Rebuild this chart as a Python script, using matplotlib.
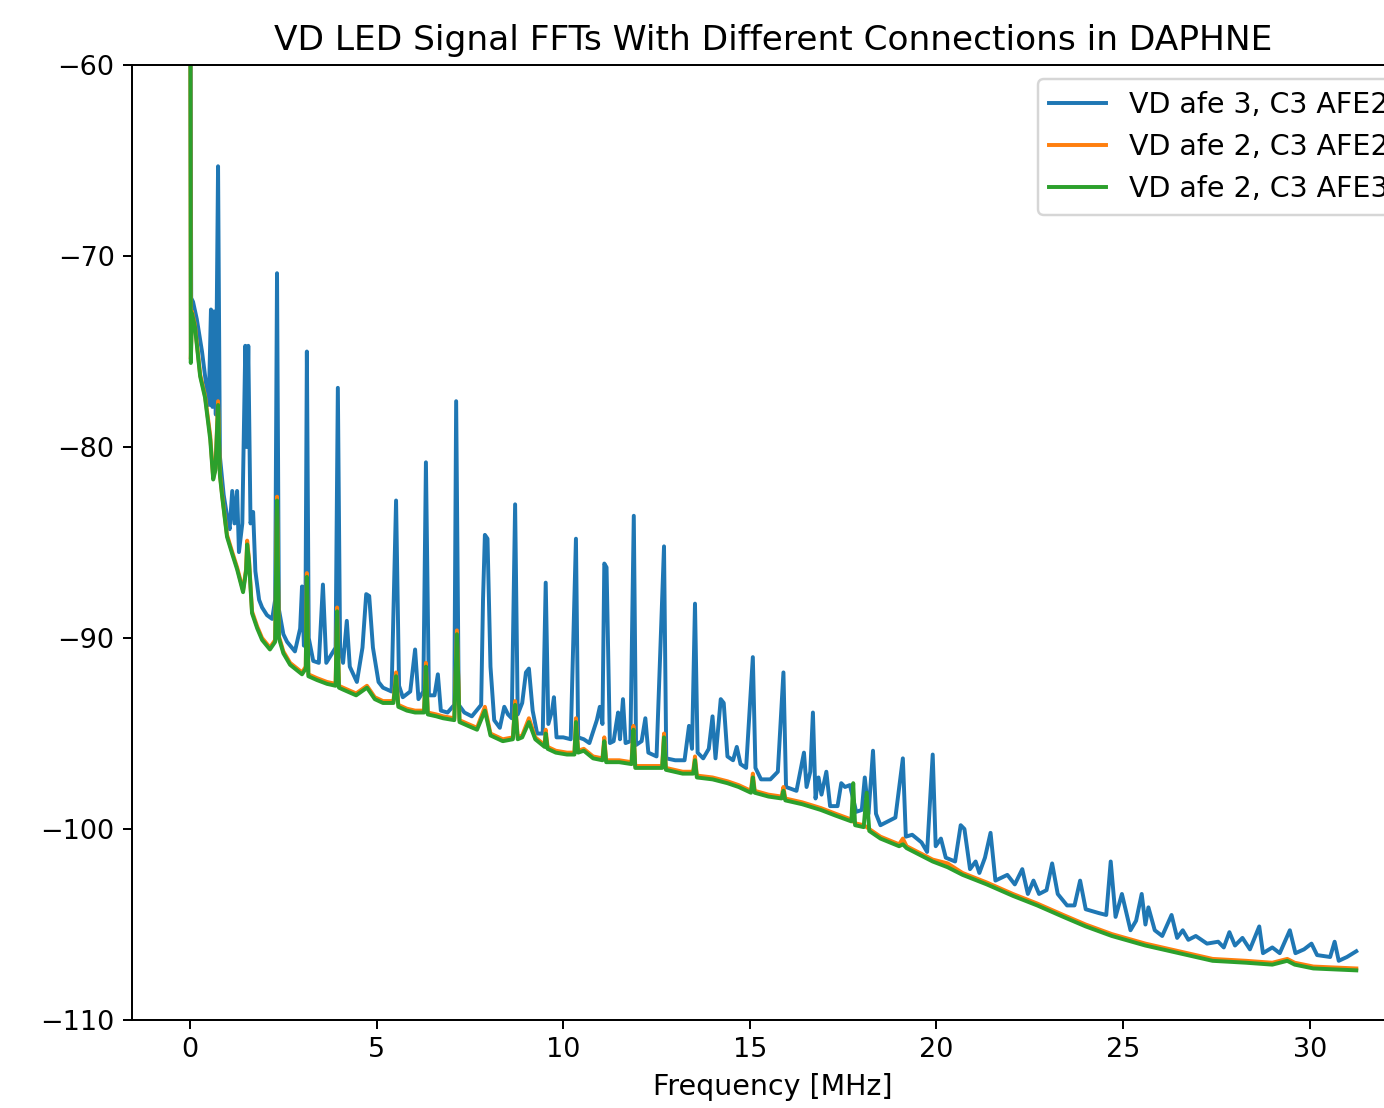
import sys

import matplotlib
matplotlib.use('Agg')
import matplotlib.pyplot as plt


# VD afe 3, C3 AFE2 -- frequency [MHz] / power [dB]
f_afe3 = [0.0, 0.03, 0.08, 0.18, 0.32, 0.45, 0.50, 0.56, 0.60, 0.64, 0.69, 0.75, 0.80, 0.90, 0.99,
          1.06, 1.13, 1.19, 1.26, 1.31, 1.40, 1.48, 1.52, 1.56, 1.62, 1.69, 1.75, 1.85, 1.93,
          2.06, 2.20, 2.28, 2.33, 2.38, 2.50, 2.60, 2.81, 2.95, 3.00, 3.05, 3.09, 3.13, 3.18,
          3.30, 3.45, 3.56, 3.65, 3.90, 3.96, 4.02, 4.10, 4.20, 4.28, 4.47, 4.62, 4.72, 4.80,
          4.90, 5.05, 5.17, 5.40, 5.52, 5.60, 5.70, 5.90, 6.03, 6.12, 6.25, 6.32, 6.40, 6.55,
          6.64, 6.72, 6.90, 7.08, 7.13, 7.20, 7.35, 7.55, 7.80, 7.85, 7.90, 7.97, 8.05, 8.15,
          8.30, 8.42, 8.52, 8.62, 8.71, 8.78, 8.90, 9.00, 9.08, 9.18, 9.30, 9.45, 9.53, 9.60,
          9.70, 9.75, 9.82, 10.0, 10.2, 10.34, 10.40, 10.55, 10.70, 10.90, 10.98, 11.05, 11.10,
          11.16, 11.25, 11.35, 11.42, 11.47, 11.52, 11.60, 11.67, 11.80, 11.89, 11.95, 12.10,
          12.20, 12.28, 12.50, 12.70, 12.76, 13.0, 13.25, 13.37, 13.45, 13.53, 13.60, 13.75,
          13.90, 14.00, 14.08, 14.22, 14.30, 14.40, 14.55, 14.65, 14.75, 14.90, 15.08, 15.15,
          15.30, 15.55, 15.75, 15.90, 15.97, 16.25, 16.45, 16.52, 16.62, 16.69, 16.76, 16.84,
          16.92, 17.05, 17.15, 17.35, 17.45, 17.55, 17.68, 17.85, 18.0, 18.08, 18.18, 18.30,
          18.38, 18.50, 18.70, 18.90, 19.10, 19.18, 19.35, 19.60, 19.75, 19.90, 19.98, 20.12,
          20.25, 20.50, 20.65, 20.75, 20.90, 21.05, 21.15, 21.30, 21.45, 21.58, 21.90, 22.10,
          22.30, 22.45, 22.60, 22.75, 22.95, 23.10, 23.25, 23.50, 23.70, 23.85, 24.00, 24.35,
          24.55, 24.67, 24.80, 24.97, 25.20, 25.35, 25.50, 25.60, 25.68, 25.85, 26.05, 26.30,
          26.45, 26.60, 26.75, 26.95, 27.25, 27.55, 27.70, 27.85, 28.00, 28.20, 28.40, 28.65,
          28.75, 29.0, 29.2, 29.47, 29.62, 29.85, 30.05, 30.20, 30.55, 30.67, 30.78, 31.0, 31.25]
db_afe3 = [-45.0, -72.2, -72.4, -73.3, -75.0, -77.0, -77.8, -72.8, -77.9, -72.9, -78.3, -65.3, -80.5, -82.5, -83.6,
           -84.3, -82.3, -84.0, -82.3, -85.5, -84.0, -74.7, -80.0, -74.7, -84.0, -83.4, -86.5, -88.0, -88.4,
           -88.8, -89.0, -88.0, -70.9, -88.5, -89.8, -90.2, -90.7, -89.5, -87.3, -90.4, -89.5, -75.0, -90.0,
           -91.2, -91.3, -87.2, -91.3, -90.5, -76.9, -90.5, -91.3, -89.1, -91.5, -92.3, -90.5, -87.7, -87.8,
           -90.5, -92.3, -92.6, -92.8, -82.8, -92.5, -93.1, -92.8, -90.6, -93.2, -92.8, -80.8, -93.0, -93.0,
           -91.9, -93.8, -93.9, -93.5, -77.6, -93.5, -93.9, -94.1, -93.5, -88.0, -84.6, -84.8, -91.5, -94.3,
           -94.7, -93.6, -94.0, -94.2, -83.0, -94.0, -93.4, -91.8, -91.6, -93.8, -95.0, -95.0, -87.1, -94.5,
           -93.8, -93.1, -95.2, -95.2, -95.3, -84.8, -95.2, -95.3, -95.5, -94.3, -93.6, -94.5, -86.1,
           -86.3, -95.5, -95.4, -94.5, -93.9, -95.3, -93.2, -95.5, -95.4, -83.6, -95.6, -95.4,
           -94.2, -96.0, -96.2, -85.2, -96.3, -96.4, -96.4, -94.6, -95.8, -88.2, -96.0, -96.3,
           -95.8, -94.1, -96.3, -93.2, -93.4, -96.2, -96.4, -95.7, -96.6, -96.8, -91.0, -96.8,
           -97.4, -97.4, -97.0, -91.8, -97.8, -98.0, -96.0, -97.8, -97.0, -93.9, -98.4, -97.3,
           -98.2, -97.0, -98.8, -98.8, -97.6, -97.8, -97.7, -99.1, -99.0, -97.3, -99.2, -95.9,
           -99.2, -99.8, -99.6, -99.4, -96.3, -100.4, -100.3, -100.7, -101.2, -96.1, -100.9, -100.5,
           -101.5, -101.7, -99.8, -100.0, -102.1, -101.7, -102.3, -101.5, -100.2, -102.7, -102.4, -102.9,
           -102.1, -103.4, -102.7, -103.4, -103.2, -101.8, -103.4, -104.0, -104.0, -102.7, -104.2, -104.4,
           -104.5, -101.7, -104.6, -103.4, -105.3, -104.8, -103.4, -105.0, -104.1, -105.3, -105.6, -104.5,
           -105.7, -105.3, -105.8, -105.6, -106.0, -105.9, -106.2, -105.4, -106.1, -105.7, -106.3, -105.1,
           -106.5, -106.2, -106.5, -105.3, -106.5, -106.3, -106.0, -106.6, -106.7, -105.9, -106.9, -106.7, -106.4]

# VD afe 2 -- shared frequency points for both C3 connections
f_afe2 = [0.0, 0.02, 0.05, 0.13, 0.27, 0.40, 0.54, 0.62, 0.68, 0.75, 0.80, 0.86, 0.99, 1.13,
          1.26, 1.42, 1.50, 1.53, 1.58, 1.66, 1.80, 1.93, 2.14, 2.28, 2.33, 2.38, 2.50, 2.68,
          3.00, 3.10, 3.13, 3.17, 3.40, 3.67, 3.90, 3.94, 3.99, 4.10, 4.45, 4.74, 4.95, 5.17,
          5.45, 5.52, 5.58, 5.81, 6.03, 6.27, 6.32, 6.37, 6.60, 6.78, 7.08, 7.15, 7.22, 7.45,
          7.69, 7.90, 8.05, 8.38, 8.65, 8.71, 8.78, 8.90, 9.08, 9.25, 9.50, 9.53, 9.58, 9.80,
          10.10, 10.30, 10.34, 10.40, 10.55, 10.8, 11.05, 11.10, 11.15, 11.5, 11.83, 11.88,
          11.93, 12.3, 12.65, 12.70, 12.75, 13.2, 13.48, 13.53, 13.58, 14.0, 14.4, 14.7,
          15.03, 15.08, 15.13, 15.5, 15.85, 15.9, 15.95, 16.4, 16.9, 17.3, 17.72, 17.77,
          17.82, 18.05, 18.13, 18.2, 18.5, 19.0, 19.1, 19.2, 19.5, 19.9, 20.3, 20.7, 21.35,
          22.05, 22.7, 23.4, 24.0, 24.7, 25.6, 26.5, 27.4, 28.3, 29.0, 29.4, 29.6, 30.1, 31.25]
db_afe2_c3afe2 = [-45.0, -75.4, -72.9, -73.6, -76.2, -77.3, -79.4, -81.6, -81.1, -77.6, -81.4, -82.5, -84.6, -85.5,
                  -86.3, -87.5, -86.4, -84.9, -85.9, -88.6, -89.4, -90.0, -90.5, -90.1, -82.6, -89.9, -90.7, -91.3,
                  -91.8, -91.5, -86.6, -91.9, -92.1, -92.3, -92.4, -88.4, -92.5, -92.6, -92.9, -92.5, -93.1, -93.3,
                  -93.3, -91.8, -93.5, -93.7, -93.8, -93.8, -91.3, -93.9, -94.0, -94.1, -94.2, -89.6, -94.3, -94.5,
                  -94.7, -93.6, -95.0, -95.3, -95.2, -93.3, -95.2, -95.1, -94.2, -95.2, -95.6, -94.8, -95.7, -95.9,
                  -96.0, -96.0, -94.2, -95.9, -95.8, -96.2, -96.3, -95.2, -96.4, -96.4, -96.5, -94.6,
                  -96.7, -96.7, -96.7, -95.0, -96.8, -97.0, -97.0, -96.2, -97.2, -97.3, -97.5, -97.7,
                  -98.0, -97.1, -98.0, -98.2, -98.3, -97.8, -98.4, -98.6, -98.9, -99.2, -99.5, -99.6,
                  -99.7, -99.8, -99.9, -100.0, -100.4, -100.8, -100.5, -100.9, -101.2, -101.6, -101.8, -102.3, -102.8,
                  -103.4, -103.9, -104.5, -105.0, -105.5, -106.0, -106.4, -106.8, -106.9, -107.0, -106.8, -107.0, -107.2, -107.3]
db_afe2_c3afe3 = [-45.0, -75.6, -73.0, -73.7, -76.3, -77.4, -79.6, -81.7, -81.2, -77.8, -81.5, -82.6, -84.7, -85.6,
                  -86.4, -87.6, -86.5, -85.1, -86.0, -88.7, -89.5, -90.1, -90.6, -90.2, -82.8, -90.0, -90.8, -91.4,
                  -91.9, -91.6, -86.8, -92.0, -92.2, -92.4, -92.5, -88.6, -92.6, -92.7, -93.0, -92.6, -93.2, -93.4,
                  -93.4, -92.0, -93.6, -93.8, -93.9, -93.9, -91.5, -94.0, -94.1, -94.2, -94.3, -89.8, -94.4, -94.6,
                  -94.8, -93.8, -95.1, -95.4, -95.3, -93.5, -95.3, -95.2, -94.4, -95.3, -95.7, -95.0, -95.8, -96.0,
                  -96.1, -96.1, -94.4, -96.0, -95.9, -96.3, -96.4, -95.4, -96.5, -96.5, -96.6, -94.8,
                  -96.8, -96.8, -96.8, -95.2, -96.9, -97.1, -97.1, -96.4, -97.3, -97.4, -97.6, -97.8,
                  -98.1, -97.3, -98.1, -98.3, -98.4, -98.0, -98.5, -98.7, -99.0, -99.3, -99.6, -97.6,
                  -99.8, -99.9, -98.1, -100.1, -100.5, -100.9, -100.8, -101.0, -101.3, -101.7, -102.0, -102.4, -102.9,
                  -103.5, -104.0, -104.6, -105.1, -105.6, -106.1, -106.5, -106.9, -107.0, -107.1, -106.9, -107.1, -107.3, -107.4]

labels = ['VD afe 3, C3 AFE2', 'VD afe 2, C3 AFE2', 'VD afe 2, C3 AFE3']


def main():
    plt.rcParams['xtick.labelsize'] = 11
    plt.rcParams['ytick.labelsize'] = 11
    plt.rcParams['lines.linewidth'] = 1.6

    fig = plt.figure(figsize=(1384 / 177, 1108 / 177), dpi=177)
    # right edge of the axes sits past the figure, like the cropped original
    ax = fig.add_axes([0.0952, 0.0794, 0.9269, 0.8619])

    ax.plot(f_afe3, db_afe3, label=labels[0])
    ax.plot(f_afe2, db_afe2_c3afe2, label=labels[1])
    ax.plot(f_afe2, db_afe2_c3afe3, label=labels[2])

    ax.set_ylim(-110, -60)
    ax.set_xlabel('Frequency [MHz]', fontsize=11.6)
    ax.set_title('VD LED Signal FFTs With Different Connections in DAPHNE', fontsize=14)
    ax.legend(loc='upper right', fontsize=11.6)

    fig.savefig('out.png', dpi=177)


if __name__ == '__main__':
    sys.exit(main())
